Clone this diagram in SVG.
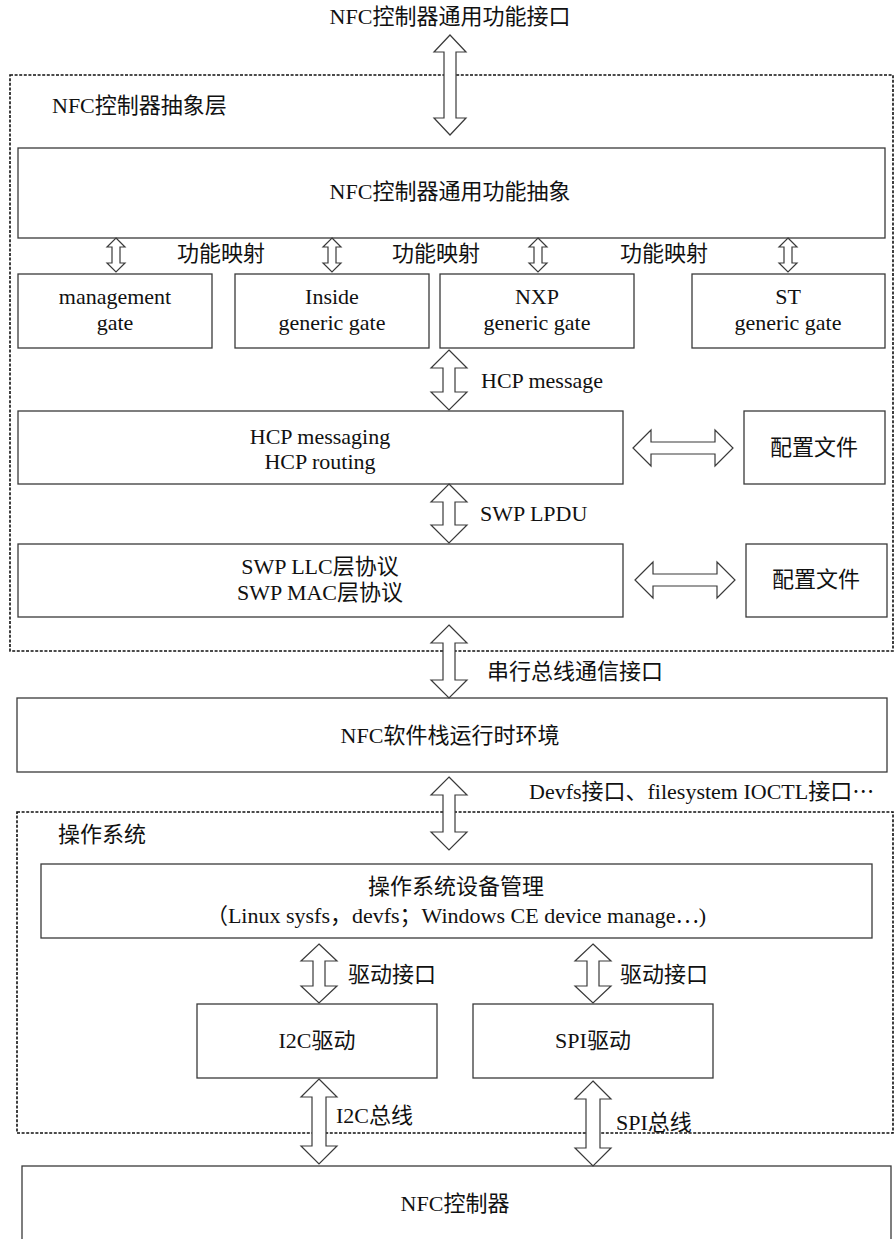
<svg xmlns="http://www.w3.org/2000/svg" width="894" height="1239" viewBox="0 0 894 1239">
<style>
text{font-family:"Liberation Serif","Noto Sans CJK SC",serif;font-size:22px;fill:#111}
.c{text-anchor:middle}
.cj{font-family:"Noto Sans CJK SC",sans-serif}
.box{fill:#fff;stroke:#3a3a3a;stroke-width:1.3}
.dash{fill:none;stroke:#111;stroke-width:1.6;stroke-dasharray:3 1.6}
.arr{fill:#fff;stroke:#3a3a3a;stroke-width:1.2;stroke-linejoin:miter}
</style>
<rect width="894" height="1239" fill="#fff"/>
<g id="layer-abstract">
<rect class="dash" x="10" y="75" width="883" height="576"/>
<text x="52" y="113">NFC控制器抽象层</text>
</g>
<g id="layer-os">
<rect class="dash" x="17" y="812" width="876" height="321"/>
<text x="58" y="842">操作系统</text>
</g>
<g id="title"><text class="c" x="450" y="24">NFC控制器通用功能接口</text></g>
<g id="abstract"><rect class="box" x="18" y="148" width="867" height="90"/><text class="c" x="450" y="199">NFC控制器通用功能抽象</text></g>
<g id="gate-mgmt"><rect class="box" x="18" y="274" width="194" height="74"/><text class="c" x="115" y="304">management</text><text class="c" x="115" y="330">gate</text></g>
<g id="gate-inside"><rect class="box" x="235" y="274" width="194" height="74"/><text class="c" x="332" y="304">Inside</text><text class="c" x="332" y="330">generic gate</text></g>
<g id="gate-nxp"><rect class="box" x="440" y="274" width="194" height="74"/><text class="c" x="537" y="304">NXP</text><text class="c" x="537" y="330">generic gate</text></g>
<g id="gate-st"><rect class="box" x="692" y="274" width="193" height="74"/><text class="c" x="788" y="304">ST</text><text class="c" x="788" y="330">generic gate</text></g>
<g id="hcp"><rect class="box" x="18" y="411" width="605" height="73"/><text class="c" x="320" y="444">HCP messaging</text><text class="c" x="320" y="469">HCP routing</text></g>
<g id="config1"><rect class="box" x="744" y="411" width="141" height="73"/><text class="c" x="814" y="455">配置文件</text></g>
<g id="swp"><rect class="box" x="18" y="544" width="605" height="73"/><text class="c" x="320" y="574">SWP LLC层协议</text><text class="c" x="320" y="600">SWP MAC层协议</text></g>
<g id="config2"><rect class="box" x="746" y="544" width="141" height="73"/><text class="c" x="816" y="587">配置文件</text></g>
<g id="runtime"><rect class="box" x="17" y="698" width="870" height="74"/><text class="c" x="450" y="743">NFC软件栈运行时环境</text></g>
<g id="osdev"><rect class="box" x="41" y="864" width="831" height="74"/><text class="c" x="456" y="894">操作系统设备管理</text><text class="c" x="456" y="923">（Linux sysfs，devfs；Windows CE device manage<tspan class="cj">⋯</tspan>)</text></g>
<g id="i2c"><rect class="box" x="197" y="1004" width="240" height="74"/><text class="c" x="317" y="1048">I2C驱动</text></g>
<g id="spi"><rect class="box" x="473" y="1004" width="240" height="74"/><text class="c" x="593" y="1048">SPI驱动</text></g>
<g id="nfcc"><rect class="box" x="22" y="1166" width="869" height="90"/><text class="c" x="455" y="1211">NFC控制器</text></g>
<g id="connectors">
<polygon class="arr" points="450,35 466,52 456,52 456,118 466,118 450,135 434,118 444,118 444,52 434,52"/>
<polygon class="arr" points="116,238 125,247 120,247 120,263 125,263 116,272 107,263 112,263 112,247 107,247"/>
<polygon class="arr" points="332,238 341,247 336,247 336,263 341,263 332,272 323,263 328,263 328,247 323,247"/>
<polygon class="arr" points="538,238 547,247 542,247 542,263 547,263 538,272 529,263 534,263 534,247 529,247"/>
<polygon class="arr" points="788,238 797,247 792,247 792,263 797,263 788,272 779,263 784,263 784,247 779,247"/>
<polygon class="arr" points="449,350 467,368 455,368 455,392 467,392 449,410 431,392 443,392 443,368 431,368"/>
<polygon class="arr" points="449,484 467,502 455,502 455,525 467,525 449,543 431,525 443,525 443,502 431,502"/>
<polygon class="arr" points="633,448 651,430 651,442 715,442 715,430 733,448 715,466 715,454 651,454 651,466"/>
<polygon class="arr" points="635,580 653,562 653,574 717,574 717,562 735,580 717,598 717,586 653,586 653,598"/>
<polygon class="arr" points="449,625 467,643 455,643 455,680 467,680 449,698 431,680 443,680 443,643 431,643"/>
<polygon class="arr" points="449,777 467,795 455,795 455,832 467,832 449,850 431,832 443,832 443,795 431,795"/>
<polygon class="arr" points="319,944 337,961 325,961 325,986 337,986 319,1003 301,986 313,986 313,961 301,961"/>
<polygon class="arr" points="593,944 611,961 599,961 599,986 611,986 593,1003 575,986 587,986 587,961 575,961"/>
<polygon class="arr" points="319,1079 337,1097 326,1097 326,1146 337,1146 319,1164 301,1146 312,1146 312,1097 301,1097"/>
<polygon class="arr" points="593,1081 611,1099 600,1099 600,1148 611,1148 593,1166 575,1148 586,1148 586,1099 575,1099"/>
</g>
<g id="labels">
<text x="177" y="261">功能映射</text>
<text x="392" y="261">功能映射</text>
<text x="620" y="261">功能映射</text>
<text x="481" y="388">HCP message</text>
<text x="480" y="521">SWP LPDU</text>
<text x="487" y="679">串行总线通信接口</text>
<text x="529" y="799">Devfs接口、filesystem IOCTL接口<tspan class="cj">⋯</tspan></text>
<text x="348" y="982">驱动接口</text>
<text x="620" y="982">驱动接口</text>
<text x="336" y="1123">I2C总线</text>
<text x="616" y="1130">SPI总线</text>
</g>
</svg>
